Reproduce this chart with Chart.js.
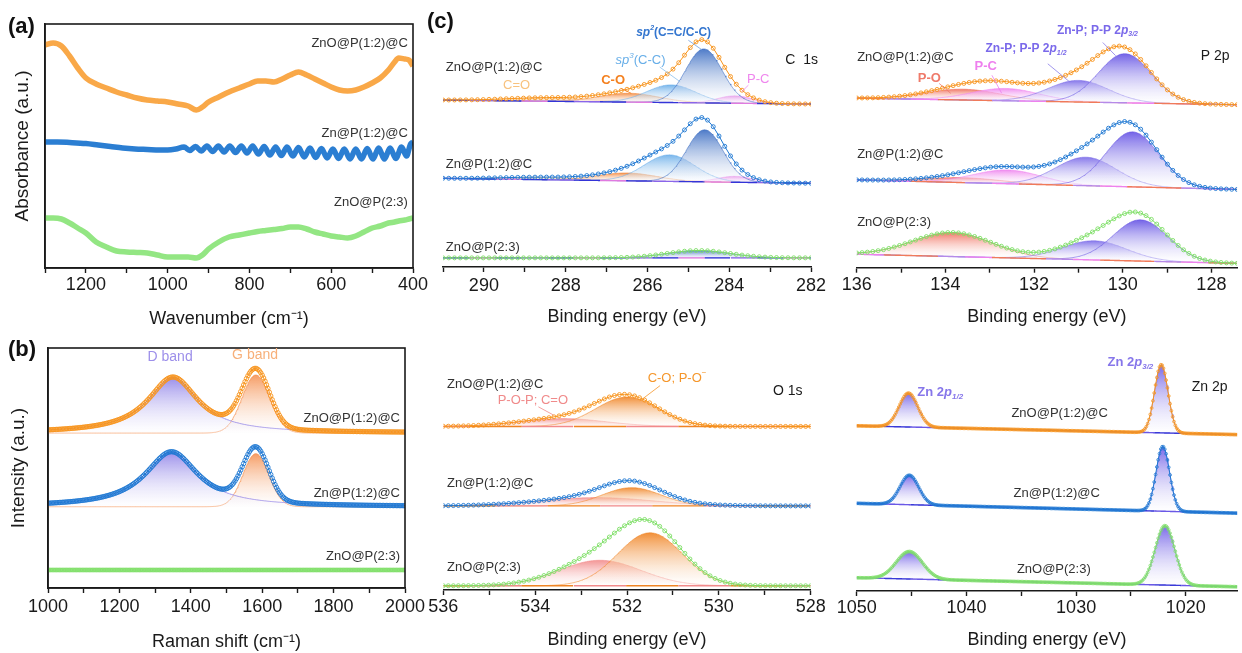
<!DOCTYPE html>
<html>
<head>
<meta charset="utf-8">
<title>ZnO@P(1:2)@C, Zn@P(1:2)@C, ZnO@P(2:3) – absorbance, Raman and XPS</title>
<script src="https://cdn.jsdelivr.net/npm/chart.js@4.4.1/dist/chart.umd.min.js"></script>
<style>
  html, body { margin: 0; padding: 0; background: #fff; }
  #page { position: relative; width: 1242px; height: 653px; overflow: hidden; background: #fff; }
  #page canvas { position: absolute; }
</style>
</head>
<body>
<div id="page">
  <canvas id="uvChart"    width="432" height="330" style="left:0px;top:0px"></canvas>
  <canvas id="ramanChart" width="432" height="323" style="left:0px;top:330px"></canvas>
  <canvas id="c1sChart"   width="410" height="330" style="left:420px;top:0px"></canvas>
  <canvas id="p2pChart"   width="412" height="330" style="left:830px;top:0px"></canvas>
  <canvas id="o1sChart"   width="410" height="323" style="left:420px;top:330px"></canvas>
  <canvas id="zn2pChart"  width="412" height="323" style="left:830px;top:330px"></canvas>
</div>

<script>
/* ============================================================
   ZnO@P / Zn@P composites – absorbance, Raman, XPS (C 1s, P 2p, O 1s, Zn 2p)
   Intensities are arbitrary units; each sample sits on its own offset.
============================================================ */

/* ── Samples ────────────────────────────────────────────── */

const samples = ['ZnO@P(1:2)@C', 'Zn@P(1:2)@C', 'ZnO@P(2:3)'];


/* ── (a) Absorbance ─────────────────────────────────────── */

const uvWavenumber = [1300, 1280, 1260, 1240, 1220, 1200, 1175, 1150, 1125, 1100, 1075, 1050, 1025, 1000,
                      975, 950, 930, 915, 900, 875, 850, 825, 800, 780, 760, 740, 720, 700, 680, 660,
                      640, 620, 600, 580, 560, 540, 520, 500, 480, 460, 445, 435, 420, 410, 400];
const uvZnOPC = [223, 225, 222, 212, 200, 190, 184, 180, 176, 173, 170, 168, 167, 166,
                 164, 162, 158, 161, 166, 171, 176, 180, 184, 187, 187, 186, 189, 193, 196, 193,
                 189, 185, 181, 178, 177, 178, 181, 185, 190, 198, 206, 210, 209, 208, 202];
const uvZnOP  = [50, 50, 49, 45, 40, 35, 26, 21, 17, 16, 15.5, 15, 13, 11,
                 11, 11, 10, 13, 19, 26, 31, 33, 35, 36.5, 37.5, 38.5, 39.5, 41, 41, 39,
                 36, 34, 32, 31, 30, 32, 36, 40, 42, 45, 46, 47, 48, 49, 50];

// Zn@P(1:2)@C carries interference fringes below ~960 cm-1
const uvZnWavenumber = [1300, 1270, 1240, 1200, 1170, 1140, 1110, 1080, 1050, 1020, 1000, 980,
                        960, 946, 932, 918, 904, 890, 876, 862, 848, 834, 820, 806, 792, 778, 764, 750,
                        736, 722, 708, 694, 680, 666, 652, 638, 624, 610, 596, 582, 568, 554, 540, 526,
                        512, 498, 484, 470, 456, 442, 428, 416, 406, 400];
const uvZnPC = [126, 126, 125.5, 124.5, 123, 121.5, 120, 119, 118.5, 118, 118, 119,
                121, 117.5, 121.5, 117, 122, 116.5, 122, 116, 122, 115.5, 122, 115, 122, 114, 121.5, 113,
                121, 112.5, 121, 112, 120.5, 111, 120, 110.5, 119.5, 110, 119, 109.5, 119, 109, 119, 109,
                119.5, 109, 120, 109, 120, 109.5, 121, 112, 124, 126];


/* ── (b) Raman ──────────────────────────────────────────── */

const ramanRange    = [1000, 2000];
const ramanBaseline = [155, 81.3, 18];
const ramanBands    = ['D band', 'G band'];
const ramanCenter   = [[1350, 1582], [1346, 1582], []];
const ramanHeight   = [[56, 58], [55, 53], []];
const ramanFwhm     = [[170, 91], [180, 85], []];
const ramanLorentz  = [1, 0];           // D fitted as Lorentzian, G as Gaussian


/* ── (c) XPS: components, peak centres (eV), heights, FWHM (eV) ── */
// background given at the two ends of each energy window

const c1sRange      = [291, 282];
const c1sComponents = ['sp2 C=C/C-C', 'sp3 C-C', 'C-O', 'C=O', 'P-C'];
const c1sCenter     = [[284.62, 285.42, 286.45, 288.4, 283.86],
                       [284.60, 285.46, 286.50, 288.5, 283.86],
                       [284.75, 285.60, 286.50, 288.5, 283.90]];
const c1sHeight     = [[55, 18, 9, 3.5, 7.5], [53, 27, 8, 2.5, 6], [7.5, 0, 0, 0, 0]];
const c1sFwhm       = [[1.05, 1.4, 1.7, 2.4, 1.0], [1.05, 1.45, 1.7, 2.4, 1.0], [1.8, 1.4, 1.7, 2.4, 1.0]];
const c1sBackground = [[170, 166], [90.3, 85.3], [9.3, 9.3]];

const p2pRange      = [136, 127.42];
const p2pComponents = ['Zn-P; P-P 2p3/2', 'Zn-P; P-P 2p1/2', 'P-C', 'P-O'];
const p2pCenter     = [[129.95, 131.0, 132.65, 133.6], [129.78, 130.83, 132.6, 133.6], [129.6, 130.64, 132.6, 133.84]];
const p2pHeight     = [[50, 22, 12.5, 11], [56, 29, 14, 5], [42, 19.5, 0, 24.5]];
const p2pFwhm       = [[1.4, 1.6, 1.8, 2.0], [1.4, 1.6, 1.8, 2.0], [1.45, 1.7, 1.8, 2.1]];
const p2pBackground = [[172.7, 166], [89.4, 79.7], [13.7, 4.4]];

const o1sRange      = [536, 528];
const o1sComponents = ['C-O; P-O-', 'P-O-P; C=O'];
const o1sCenter     = [[532.0, 533.4], [531.9, 532.66], [531.5, 532.59]];
const o1sHeight     = [[30, 8], [18.6, 8.5], [54, 26]];
const o1sFwhm       = [[1.6, 2.2], [1.5, 2.9], [1.65, 2.1]];
const o1sBackground = [[166.7, 166.7], [85.7, 85.7], [4.3, 4.3]];

const zn2pRange      = [1050, 1015.32];
const zn2pComponents = ['Zn 2p3/2', 'Zn 2p1/2'];
const zn2pCenter     = [[1022.24, 1045.28], [1022.1, 1045.2], [1021.9, 1045.2]];
const zn2pHeight     = [[69.5, 34.5], [66, 30], [60.5, 28]];
const zn2pFwhm       = [[1.45, 2.0], [1.45, 2.0], [2.1, 2.8]];
const zn2pBackground = [[168.3, 159.3], [89.3, 79.3], [13.5, 4.3]];


/* ── Style ──────────────────────────────────────────────── */

const FONT = "'Liberation Sans', Arial, Helvetica, sans-serif";
const INK  = '#1a1a1a';
const TEXT = '#333333';

const SAMPLE_COLORS = ['#f7941d', '#1f78d2', '#7fdf68'];
const UV_COLORS     = ['#f9a848', '#2b7ed2', '#93e683'];

Chart.defaults.font.family = FONT;
Chart.defaults.color = INK;


/* ── Helpers ────────────────────────────────────────────── */

function steps(from, to, step) {
  const n = Math.round(Math.abs(to - from) / step);
  const out = [];
  for (let i = 0; i <= n; i++) out.push(from + (to - from) * i / n);
  return out;
}

// pseudo-Voigt: mix = Lorentzian fraction
function lineShape(e, c, h, w, mix) {
  const d = (e - c) / (w / 2);
  return h * ((1 - mix) * Math.exp(-Math.LN2 * d * d) + mix / (1 + d * d));
}

function rgba(hex, a) {
  const n = parseInt(hex.slice(1), 16);
  return `rgba(${n >> 16},${(n >> 8) & 255},${n & 255},${a})`;
}

// vertical fade from the component apex down to its background
function fadeFill(color, alpha = 0.9) {
  return ctx => {
    const { chart, dataset } = ctx;
    if (!chart.chartArea || !dataset || dataset.peakTop === undefined) return rgba(color, 0.4);
    const y   = chart.scales.y;
    const top = y.getPixelForValue(dataset.peakTop);
    const bot = y.getPixelForValue(dataset.peakBase);
    const g   = chart.ctx.createLinearGradient(0, top, 0, bot + 1);
    g.addColorStop(0, rgba(color, alpha));
    g.addColorStop(1, 'rgba(255,255,255,0.25)');
    return g;
  };
}

function markers(data, color, radius, width = 0.9) {
  return {
    data, order: 0,
    borderColor: color, borderWidth: 1, showLine: true, fill: false,
    pointRadius: radius, pointBorderWidth: width,
    pointBorderColor: color, pointBackgroundColor: 'rgba(255,255,255,0)'
  };
}

// text with italic / super- / subscript runs: parts = [[text, 'i sup sub']]
function drawRich(ctx, x, y, it) {
  const size   = it.size || 13;
  const weight = it.bold ? 'bold' : 'normal';
  const fontOf = k => {
    const small = /sup|sub/.test(k || '');
    return `${/i/.test(k || '') ? 'italic ' : ''}${weight} ${small ? Math.round(size * 0.62) : size}px ${FONT}`;
  };
  const parts = it.parts || [[it.text, '']];
  let width = 0;
  parts.forEach(([t, k]) => { ctx.font = fontOf(k); width += ctx.measureText(t).width; });
  let cx = it.align === 'center' ? x - width / 2 : it.align === 'right' ? x - width : x;
  ctx.fillStyle = it.color || TEXT;
  ctx.textAlign = 'left';
  ctx.textBaseline = 'middle';
  parts.forEach(([t, k]) => {
    ctx.font = fontOf(k);
    const dy = /sup/.test(k || '') ? -size * 0.38 : /sub/.test(k || '') ? size * 0.32 : 0;
    ctx.fillText(t, cx, y + dy);
    cx += ctx.measureText(t).width;
  });
}

// labels, leader lines and optional box frame, drawn after the datasets
function notes(items, lines = [], frame = false) {
  return {
    id: 'notes',
    afterDraw(chart) {
      const { ctx, chartArea: a, scales: { x, y } } = chart;
      ctx.save();
      if (frame) {
        ctx.strokeStyle = INK;
        ctx.lineWidth = 1.6;
        ctx.strokeRect(a.left, a.top, a.width, a.height);
      }
      lines.forEach(([x0, y0, x1, y1, color]) => {
        ctx.beginPath();
        ctx.strokeStyle = color;
        ctx.lineWidth = 0.8;
        ctx.moveTo(x.getPixelForValue(x0), y.getPixelForValue(y0));
        ctx.lineTo(x.getPixelForValue(x1), y.getPixelForValue(y1));
        ctx.stroke();
      });
      items.forEach(it => {
        const px = it.px ? it.x : x.getPixelForValue(it.x);
        const py = it.px ? it.y : y.getPixelForValue(it.y);
        drawRich(ctx, px, py, it);
      });
      ctx.restore();
    }
  };
}

function bottomAxis({ min, max, step, every, reverse, title, height, tickPad, titlePad }) {
  return {
    type: 'linear', min, max, reverse,
    afterFit: s => { s.height = height; },
    border: { display: true, color: INK, width: 1.6 },
    grid: { display: true, drawOnChartArea: false, drawTicks: true, tickLength: 5, tickWidth: 1.4, tickColor: INK },
    ticks: {
      stepSize: step, includeBounds: false, autoSkip: false, maxRotation: 0, maxTicksLimit: 60,
      padding: tickPad, color: INK, font: { size: 18 },
      callback: v => (Math.abs(v / every - Math.round(v / every)) < 1e-6 ? String(Math.round(v)) : '')
    },
    title: { display: true, text: title, color: INK, font: { size: 18 }, padding: { top: 0, bottom: titlePad } }
  };
}

function leftAxis(max, width, title, titlePad) {
  return {
    min: 0, max,
    afterFit: s => { s.width = width; },
    border: { display: true, color: INK, width: 1.6 },
    grid: { display: true, drawOnChartArea: false, drawTicks: false },
    ticks: { display: false },
    title: { display: true, text: title, color: INK, font: { size: 19 }, padding: { top: titlePad, bottom: 0 } }
  };
}

function baseOptions(padding, scales) {
  return {
    responsive: false,
    animation: false,
    events: [],
    layout: { padding },
    scales,
    plugins: { legend: { display: false }, tooltip: { enabled: false }, colors: { enabled: false } }
  };
}


/* ── Init ───────────────────────────────────────────────── */

document.addEventListener('DOMContentLoaded', () => {
  initUvChart();
  initRamanChart();
  initXpsChart('c1sChart', XPS.c1s);
  initXpsChart('p2pChart', XPS.p2p);
  initXpsChart('o1sChart', XPS.o1s);
  initXpsChart('zn2pChart', XPS.zn2p);
});


/* ── (a) Absorbance chart ───────────────────────────────── */

function initUvChart() {
  const pts = (xs, ys) => xs.map((x, i) => ({ x, y: ys[i] }));
  const band = (data, color) => ({
    data, borderColor: color, borderWidth: 5.5, pointRadius: 0, fill: false,
    cubicInterpolationMode: 'monotone'
  });

  const labelItems = [
    { px: true, x: 8, y: 27, text: '(a)', size: 22, bold: true, color: '#111' },
    { x: 412.5, y: 225, text: samples[0], align: 'right' },
    { x: 412.5, y: 135, text: samples[1], align: 'right' },
    { x: 412.5, y: 66,  text: samples[2], align: 'right' }
  ];

  new Chart(document.getElementById('uvChart'), {
    type: 'line',
    data: { datasets: [
      band(pts(uvWavenumber, uvZnOPC), UV_COLORS[0]),
      band(pts(uvZnWavenumber, uvZnPC), UV_COLORS[1]),
      band(pts(uvWavenumber, uvZnOP), UV_COLORS[2])
    ]},
    options: baseOptions({ top: 24, right: 19, left: 0, bottom: 0 }, {
      x: bottomAxis({ min: 400, max: 1300, step: 100, every: 200, reverse: true,
                      title: 'Wavenumber (cm⁻¹)', height: 62, tickPad: 1, titlePad: 0 }),
      y: leftAxis(244, 45, 'Absorbance (a.u.)', 11)
    }),
    plugins: [notes(labelItems, [], true)]
  });
}


/* ── (b) Raman chart ────────────────────────────────────── */

function initRamanChart() {
  const [lo, hi] = ramanRange;
  const fine   = steps(lo, hi, 2);
  const coarse = steps(lo, hi, 4);
  const bandColors = ['#8779e6', '#f48c4a'];
  const datasets = [];

  samples.forEach((name, s) => {
    const base = ramanBaseline[s];
    const comp = (e, k) => lineShape(e, ramanCenter[s][k], ramanHeight[s][k], ramanFwhm[s][k], ramanLorentz[k]);
    const fit  = e => base + ramanCenter[s].reduce((sum, _, k) => sum + comp(e, k), 0);

    const baseIndex = datasets.length;
    datasets.push({ data: fine.map(e => ({ x: e, y: base })), borderColor: 'rgba(0,0,0,0)',
                    borderWidth: 0, pointRadius: 0, fill: false, order: 1 });

    ramanCenter[s].forEach((c, k) => {
      datasets.push({
        data: fine.map(e => ({ x: e, y: base + comp(e, k) })),
        peakTop: base + ramanHeight[s][k], peakBase: base,
        borderColor: rgba(bandColors[k], 0.75), borderWidth: 0.9, pointRadius: 0,
        fill: { target: baseIndex }, backgroundColor: fadeFill(bandColors[k], 0.85), order: 2
      });
    });

    datasets.push(markers(coarse.map(e => ({ x: e, y: fit(e) })), SAMPLE_COLORS[s], s === 2 ? 1.9 : 2.2));
  });

  const labelItems = [
    { px: true, x: 8, y: 20, text: '(b)', size: 22, bold: true, color: '#111' },
    { x: 1342, y: 231, text: ramanBands[0], size: 14, color: '#9d8fea', align: 'center' },
    { x: 1580, y: 233, text: ramanBands[1], size: 14, color: '#f7b07a', align: 'center' },
    { x: 1986, y: 170, text: samples[0], align: 'right' },
    { x: 1986, y: 95,  text: samples[1], align: 'right' },
    { x: 1986, y: 32,  text: samples[2], align: 'right' }
  ];

  new Chart(document.getElementById('ramanChart'), {
    type: 'line',
    data: { datasets },
    options: baseOptions({ top: 18, right: 27, left: 0, bottom: 0 }, {
      x: bottomAxis({ min: lo, max: hi, step: 100, every: 200, reverse: false,
                      title: 'Raman shift (cm⁻¹)', height: 65, tickPad: 3, titlePad: 0 }),
      y: leftAxis(240, 48, 'Intensity (a.u.)', 7)
    }),
    plugins: [notes(labelItems, [], true)]
  });
}


/* ── (c) XPS panels ─────────────────────────────────────── */

const sub = (a, b) => [[a, ''], ['p', 'i'], [b, 'i sub']];

const XPS = {
  c1s: {
    range: c1sRange, center: c1sCenter, height: c1sHeight, fwhm: c1sFwhm, background: c1sBackground,
    step: 0.14, marker: 2, markerWidth: 0.9, tickStep: 1, every: 2, axisHeight: 63, yMax: 267,
    padding: { left: 23, right: 19, top: 0, bottom: 0 }, tickPad: 3, titlePad: 2,
    colors: ['#3a6cc2', '#6aaee9', '#f2873a', '#f8c88e', '#ec7ee6'],
    baseColors: ['#3434d8', '#8a66ea', '#3434d8', '#e07ae0'],
    items: [
      { px: true, x: 7, y: 22, text: '(c)', size: 22, bold: true, color: '#111' },
      { x: 290.93, y: 203, text: samples[0] },
      { x: 290.93, y: 105, text: samples[1] },
      { x: 290.93, y: 20,  text: samples[2] },
      { x: 282.63, y: 211, text: 'C  1s', size: 14, color: INK },
      { x: 289.2,  y: 185, text: 'C=O', color: '#f8c27e', align: 'center' },
      { x: 286.84, y: 190, text: 'C-O', bold: true, color: '#f4801f', align: 'center' },
      { x: 286.17, y: 210, parts: [['sp', 'i'], ['3', 'i sup'], ['(C-C)', '']], color: '#67aee8', align: 'center' },
      { x: 285.36, y: 239, parts: [['sp', 'i'], ['2', 'i sup'], ['(C=C/C-C)', '']], bold: true, size: 12, color: '#3476cf', align: 'center' },
      { x: 283.29, y: 191, text: 'P-C', color: '#ef86ee', align: 'center' }
    ],
    lines: [
      [285.0, 231, 284.66, 221, '#6f9ee0'],
      [285.7, 203.7, 285.2, 188.7, '#8cc0ee'],
      [286.65, 182, 286.4, 177, '#f4801f'],
      [283.53, 185.3, 283.69, 178.7, '#ef86ee']
    ]
  },
  p2p: {
    range: p2pRange, center: p2pCenter, height: p2pHeight, fwhm: p2pFwhm, background: p2pBackground,
    step: 0.12, marker: 2, markerWidth: 0.9, tickStep: 1, every: 2, axisHeight: 62.3, yMax: 267.7,
    padding: { left: 26.7, right: 1, top: 0, bottom: 0 }, tickPad: 2, titlePad: 2,
    colors: ['#6452e4', '#7a6ae8', '#ee82ee', '#f06a58'],
    baseColors: ['#f07a5a', '#b58ae8', '#ee82ee', '#f07a5a'],
    items: [
      { x: 135.99, y: 214.7, text: samples[0] },
      { x: 135.99, y: 115.7, text: samples[1] },
      { x: 135.99, y: 45.7,  text: samples[2] },
      { x: 128.24, y: 215.7, text: 'P 2p', size: 14, color: INK },
      { x: 134.36, y: 192.7, text: 'P-O', bold: true, color: '#ef7a6a', align: 'center' },
      { x: 133.09, y: 204.7, text: 'P-C', bold: true, color: '#ee7fee', align: 'center' },
      { x: 132.18, y: 222.7, parts: sub('Zn-P; P-P 2', '1/2'), bold: true, size: 12, color: '#7a69ea', align: 'center' },
      { x: 130.57, y: 241.7, parts: sub('Zn-P; P-P 2', '3/2'), bold: true, size: 12, color: '#7a69ea', align: 'center' }
    ],
    lines: [
      [130.45, 229.4, 130.16, 216, '#8a7cea'],
      [131.69, 207.7, 131.2, 189.4, '#8a7cea'],
      [132.95, 196, 132.73, 177.7, '#ee7fee'],
      [134.14, 187.7, 133.88, 177.7, '#ef7a6a']
    ]
  },
  o1s: {
    range: o1sRange, center: o1sCenter, height: o1sHeight, fwhm: o1sFwhm, background: o1sBackground,
    step: 0.11, marker: 2, markerWidth: 0.9, tickStep: 1, every: 2, axisHeight: 63, yMax: 260,
    padding: { left: 23.3, right: 19.3, top: 0, bottom: 0 }, tickPad: 1, titlePad: 2,
    colors: ['#f08424', '#f28a8a'],
    baseColors: ['#f28a8a', '#f08424', '#f08424', '#f28a8a'],
    items: [
      { x: 535.92, y: 210, text: samples[0] },
      { x: 535.92, y: 109, text: samples[1] },
      { x: 535.92, y: 23,  text: samples[2] },
      { x: 528.82, y: 203, text: 'O 1s', size: 14, color: INK },
      { x: 534.05, y: 193, text: 'P-O-P; C=O', color: '#f08a8a', align: 'center' },
      { x: 530.91, y: 216, parts: [['C-O; P-O', ''], ['−', 'sup']], color: '#f5962a', align: 'center' }
    ],
    lines: [
      [531.28, 208.3, 531.72, 192.7, '#f5962a'],
      [533.93, 186.7, 533.6, 178.3, '#f08a8a']
    ]
  },
  zn2p: {
    range: zn2pRange, center: zn2pCenter, height: zn2pHeight, fwhm: zn2pFwhm, background: zn2pBackground,
    step: 0.12, marker: 1.4, markerWidth: 0.8, tickStep: 5, every: 10, axisHeight: 62, yMax: 261,
    padding: { left: 26.7, right: 1, top: 0, bottom: 0 }, tickPad: 1, titlePad: 2,
    colors: ['#6a58e6', '#6a58e6'],
    baseColors: ['#6a58e6', '#3a3ad8'],
    items: [
      { x: 1035.9, y: 181, text: samples[0] },
      { x: 1035.7, y: 99,  text: samples[1] },
      { x: 1035.4, y: 22,  text: samples[2] },
      { x: 1019.47, y: 208, text: 'Zn 2p', size: 14, color: INK },
      { x: 1044.47, y: 202, parts: sub('Zn 2', '1/2'), bold: true, color: '#8676ea' },
      { x: 1027.14, y: 233, parts: sub('Zn 2', '3/2'), bold: true, color: '#8676ea' }
    ],
    lines: []
  }
};

function initXpsChart(id, p) {
  const [eLeft, eRight] = p.range;
  const fine   = steps(eLeft, eRight, Math.abs(eLeft - eRight) / 450);
  const coarse = steps(eLeft, eRight, p.step);
  const dash   = Math.round(fine.length / 14);     // background drawn as short coloured runs
  const datasets = [];

  samples.forEach((name, s) => {
    const [b0, b1] = p.background[s];
    const bg   = e => b0 + (b1 - b0) * (e - eLeft) / (eRight - eLeft);
    const comp = (e, k) => lineShape(e, p.center[s][k], p.height[s][k], p.fwhm[s][k], 0);
    const fit  = e => bg(e) + p.center[s].reduce((sum, _, k) => sum + comp(e, k), 0);
    const bgData = fine.map(e => ({ x: e, y: bg(e) }));

    // plain background used as the fill target
    const baseIndex = datasets.length;
    datasets.push({ data: bgData, borderColor: 'rgba(0,0,0,0)', borderWidth: 0,
                    pointRadius: 0, fill: false, order: 3 });

    p.center[s].forEach((c, k) => {
      if (!p.height[s][k]) return;
      datasets.push({
        data: fine.map(e => ({ x: e, y: bg(e) + comp(e, k) })),
        peakTop: bg(c) + p.height[s][k], peakBase: bg(c),
        borderColor: rgba(p.colors[k], 0.7), borderWidth: 0.8, pointRadius: 0,
        fill: { target: baseIndex }, backgroundColor: fadeFill(p.colors[k]), order: 2
      });
    });

    // visible background line in coloured runs
    datasets.push({
      data: bgData, borderColor: p.baseColors[0],
      segment: { borderColor: c => p.baseColors[Math.floor(c.p0DataIndex / dash + s) % p.baseColors.length] },
      borderWidth: 1.4, pointRadius: 0, fill: false, order: 1
    });

    datasets.push(markers(coarse.map(e => ({ x: e, y: fit(e) })), SAMPLE_COLORS[s], p.marker, p.markerWidth));
  });

  new Chart(document.getElementById(id), {
    type: 'line',
    data: { datasets },
    options: baseOptions(p.padding, {
      x: bottomAxis({ min: Math.min(eLeft, eRight), max: Math.max(eLeft, eRight), step: p.tickStep,
                      every: p.every, reverse: true, title: 'Binding energy (eV)',
                      height: p.axisHeight, tickPad: p.tickPad, titlePad: p.titlePad }),
      y: { display: false, min: 0, max: p.yMax }
    }),
    plugins: [notes(p.items, p.lines)]
  });
}
</script>
</body>
</html>
